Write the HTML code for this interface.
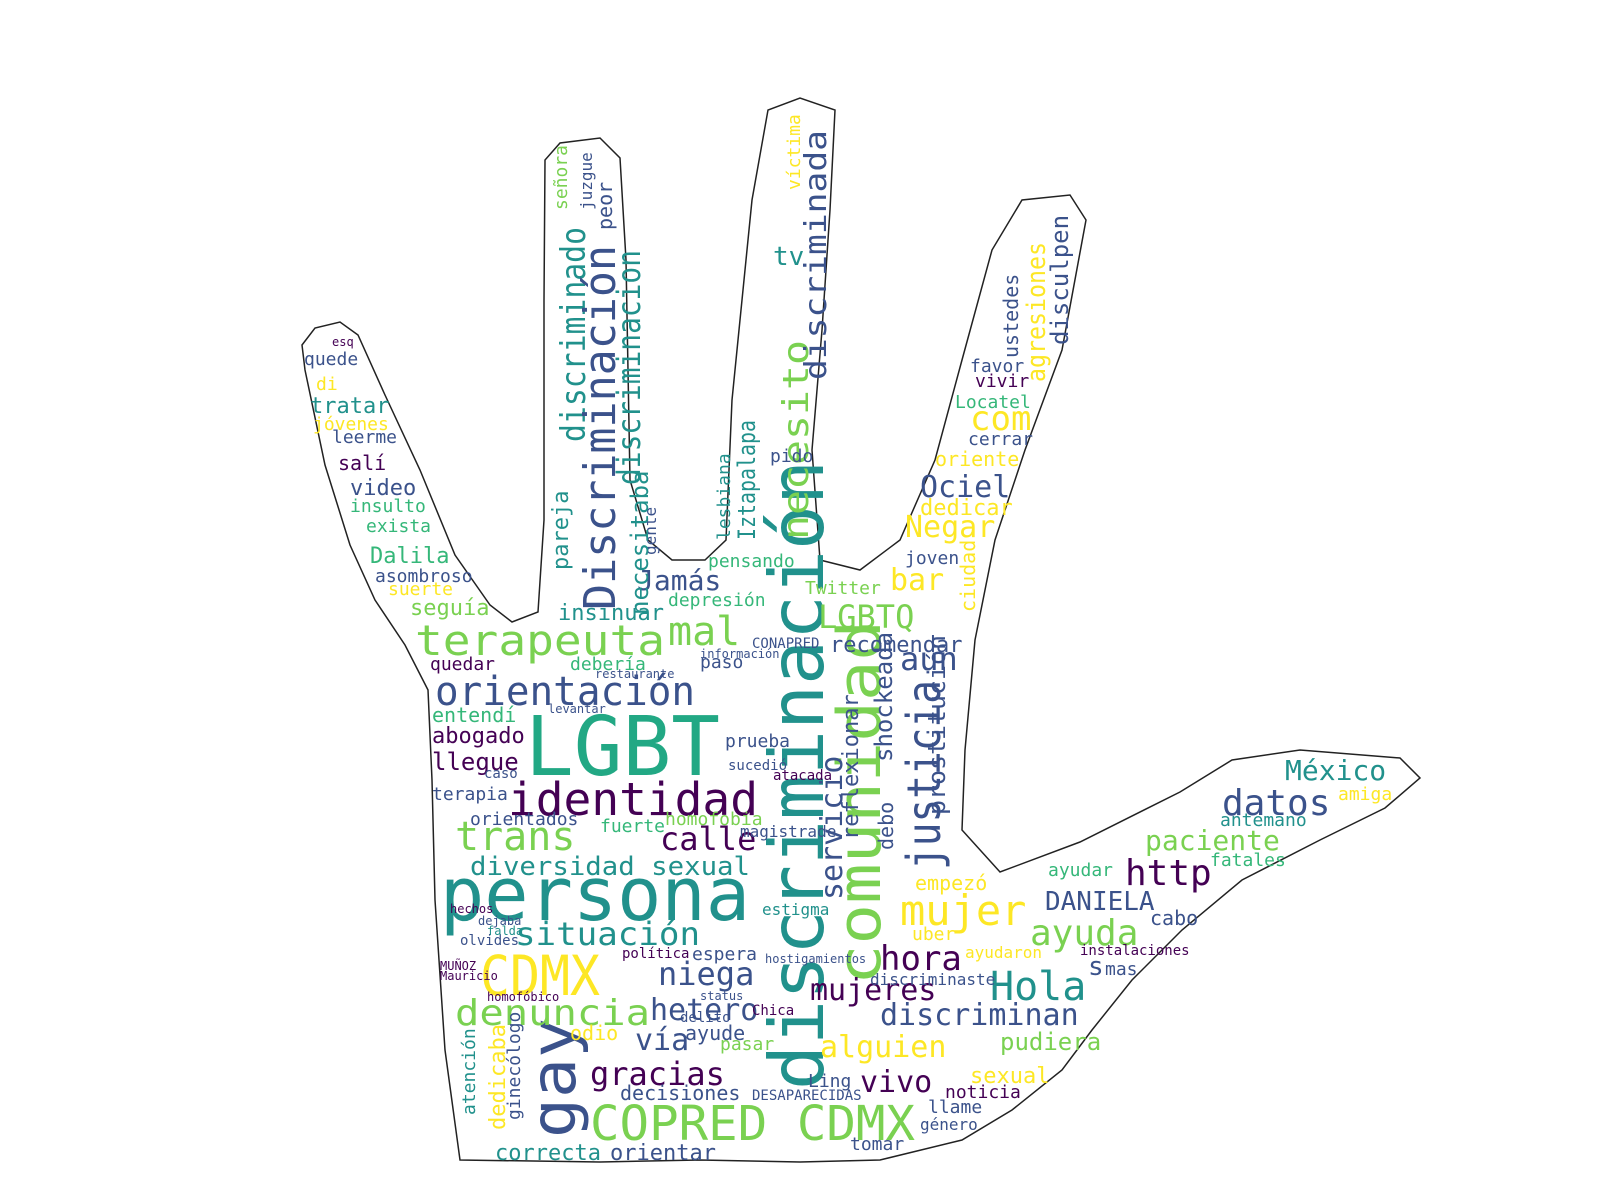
<!DOCTYPE html>
<html><head><meta charset="utf-8">
<style>
html,body{margin:0;padding:0;background:#fff;}
svg{display:block;}
text{font-family:"DejaVu Sans Mono","Liberation Mono",monospace;}
</style></head>
<body>
<svg width="1600" height="1200" viewBox="0 0 1600 1200">
<rect width="1600" height="1200" fill="#fff"/>
<path fill="#fff" stroke="#222" stroke-width="1.5"
d="M460,1160 L445,1050 L435,900 L432,780 L428,690 L405,645 L375,600 L350,545 L325,465 L305,370 L302,345 L315,328 L340,322 L358,335 L385,395 L420,470 L455,555 L490,605 L512,622 L538,612 L544,520 L544,300 L545,160 L560,143 L600,138 L620,158 L626,260 L630,480 L648,540 L672,560 L705,560 L726,540 L732,400 L752,200 L768,110 L800,98 L835,110 L830,210 L822,330 L812,450 L820,560 L860,570 L900,540 L935,460 L962,360 L992,250 L1022,200 L1070,195 L1086,220 L1062,350 L1025,450 L995,540 L975,640 L965,750 L962,830 L1000,872 L1080,842 L1180,792 L1232,760 L1300,750 L1400,758 L1420,778 L1385,808 L1320,840 L1242,880 L1182,930 L1132,980 L1092,1030 L1062,1070 L1012,1110 L962,1140 L880,1160 L800,1162 L700,1160 L600,1162 Z"/>
<g id="words"></g>
</svg>
<script>
const words = [
"LGBT","persona","discriminación","identidad","orientación","terapeuta","mal","CDMX","gay","COPRED CDMX",
"comunidad","trans","diversidad sexual","situación","denuncia","mujer","justicia","Hola","ayuda","hora",
"mujeres","discriminan","alguien","gracias","niega","hetero","calle","datos","México","paciente",
"http","DANIELA","Ociel","Negar","com","bar","aun","LGBTQ","Jamás","insinuar",
"discriminado","Discriminación","discriminacion","necesito","discriminada","vivo","vía","llegue","abogado","correcta",
"orientar","servicio","shockeada","agresiones","disculpen","ustedes","tratar","jóvenes","video","Dalila",
"seguía","pudiera","sexual","recomendar","prostitución","Iztapalapa","ciudad","entendí","terapia","fuerte",
"empezó","decisiones","odio","ayude","Ling","noticia","llame","género","tomar","cabo",
"fatales","ayudar","amiga","antemano","oriente","cerrar","Locatel","vivir","favor","dedicar",
"joven","Twitter","pensando","depresión","paso","quedar","debería","prueba","homofobia","orientados",
"insulto","exista","asombroso","suerte","salí","leerme","quede","tv","pido","magistrade",
"espera","uber","debo","reflexionar","mas","s","instalaciones","discriminaste","Chica","pasar",
"estigma","hostigamientos","política","delito","status","ayudaron","DESAPARECIDAS","gente","pareja","necesitaba",
"peor","juzgue","señora","lesbiana","víctima","dedicaba","atención","ginecólogo","homofóbico","MUÑOZ",
"Mauricio","olvides","dejaba","falda","hechos","atacada","sucedió","CONAPRED","información","restaurante",
"levantar","caso","di","esq"];
const xs = [
525,440,823,508,435,415,668,480,575,590,
880,455,470,515,455,900,940,990,1030,880,
810,880,820,590,658,650,660,1222,1285,1145,
1125,1045,920,905,970,890,900,818,637,558,
585,615,640,808,826,860,635,432,432,495,
610,842,892,1045,1068,1018,310,313,350,370,
410,1000,970,830,945,755,975,432,432,600,
915,620,570,685,808,945,928,920,850,1150,
1210,1048,1338,1220,935,968,955,975,970,920,
905,805,708,668,700,430,570,725,665,470,
350,366,375,388,338,332,304,773,770,740,
692,912,893,858,1105,1088,1080,870,752,720,
762,765,622,680,700,965,752,656,568,648,
612,592,567,730,800,505,475,520,487,440,
440,460,478,487,450,773,728,752,700,595,
548,484,316,332];
const ys = [
775,920,1090,815,705,655,645,995,1138,1140,
985,850,875,945,1025,925,870,1000,945,970,
1000,1025,1057,1085,985,1020,850,815,780,850,
885,910,497,537,430,590,670,628,590,620,
442,610,485,540,380,1092,1050,770,743,1160,
1160,900,762,382,345,358,413,430,495,563,
615,1050,1083,652,815,540,612,722,800,832,
890,1100,1040,1040,1087,1098,1113,1130,1150,925,
866,876,800,826,466,445,408,387,372,515,
564,594,567,606,668,670,670,747,825,825,
512,532,582,595,470,443,365,265,462,837,
960,940,850,840,975,975,955,985,1015,1050,
915,963,958,1022,1000,958,1100,555,570,615,
230,210,210,540,190,1130,1115,1120,1001,970,
980,945,925,935,913,780,770,648,658,678,
713,778,390,346];
const sizes = [
82,74,75,45,40,42,40,55,62,48,
60,40,26,32,36,42,46,40,36,34,
30,30,30,32,32,30,32,36,28,28,
36,26,30,30,34,30,32,32,28,22,
34,44,32,36,30,30,30,24,22,22,
22,30,24,26,24,20,22,18,22,22,
22,24,22,22,24,24,20,20,18,18,
20,20,20,20,18,18,18,16,18,20,
18,18,18,18,20,18,18,18,18,22,
18,18,18,18,18,18,18,18,18,18,
18,18,18,18,20,18,18,26,18,16,
18,18,20,22,18,26,14,16,14,18,
16,12,14,14,12,16,14,16,22,24,
20,16,18,18,18,22,18,18,12,12,
12,14,12,12,12,14,14,14,12,12,
12,14,18,12];
const colorCodes = [
"G","T","T","P","B","L","L","Y","B","L",
"L","L","T","T","L","Y","B","T","L","P",
"P","B","Y","P","B","B","P","B","T","L",
"P","B","B","Y","Y","Y","B","L","B","T",
"T","B","T","L","B","P","B","P","P","T",
"B","B","B","Y","B","B","T","Y","B","S",
"L","L","Y","B","B","T","Y","S","B","S",
"Y","B","Y","B","B","P","B","B","B","B",
"S","S","Y","T","Y","B","S","P","B","Y",
"B","L","S","S","B","P","S","B","L","B",
"S","S","B","Y","P","B","B","T","B","B",
"B","Y","B","B","B","B","P","B","P","L",
"T","B","P","B","B","Y","B","B","T","T",
"B","B","L","T","Y","Y","T","B","P","P",
"P","B","B","T","P","P","B","B","B","B",
"B","B","Y","P"];
const palette = {G:"#22a884",T:"#21918c",P:"#440154",B:"#3b528b",L:"#7ad151",Y:"#fde725",S:"#35b779"};
const rotated = {"discriminación":1,"gay":1,"comunidad":1,"justicia":1,"discriminado":1,"Discriminación":1,"discriminacion":1,"necesito":1,"discriminada":1,"servicio":1,"shockeada":1,"agresiones":1,"disculpen":1,"ustedes":1,"prostitución":1,"Iztapalapa":1,"ciudad":1,"reflexionar":1,"debo":1,"gente":1,"pareja":1,"necesitaba":1,"peor":1,"juzgue":1,"señora":1,"lesbiana":1,"víctima":1,"dedicaba":1,"atención":1,"ginecólogo":1};
const lengths = {"LGBT":195,"persona":310,"discriminación":630,"comunidad":365,"justicia":190,"gay":120,"Discriminación":365,"discriminado":215,"discriminacion":235,"necesito":200,"discriminada":250,"COPRED CDMX":325,"CDMX":120,"identidad":250,"orientación":260,"terapeuta":250,"diversidad sexual":280,"situación":185,"denuncia":195,"agresiones":140,"prostitución":180,"Iztapalapa":120};

const g = document.getElementById('words');
const NS = 'http://www.w3.org/2000/svg';
for (let i = 0; i < words.length; i++) {
  const t = document.createElementNS(NS, 'text');
  
  
  t.setAttribute('x', xs[i]);
  t.setAttribute('y', ys[i]);
  t.setAttribute('font-size', sizes[i]);
  t.setAttribute('fill', palette[colorCodes[i]] || "#3b528b");
  if (lengths[words[i]]) {
    t.setAttribute('textLength', lengths[words[i]]);
    t.setAttribute('lengthAdjust', 'spacingAndGlyphs');
  }
  if (rotated[words[i]]) t.setAttribute('transform', 'rotate(-90 ' + xs[i] + ' ' + ys[i] + ')');
  t.textContent = words[i];
  g.appendChild(t);
}
</script>
</body></html>
